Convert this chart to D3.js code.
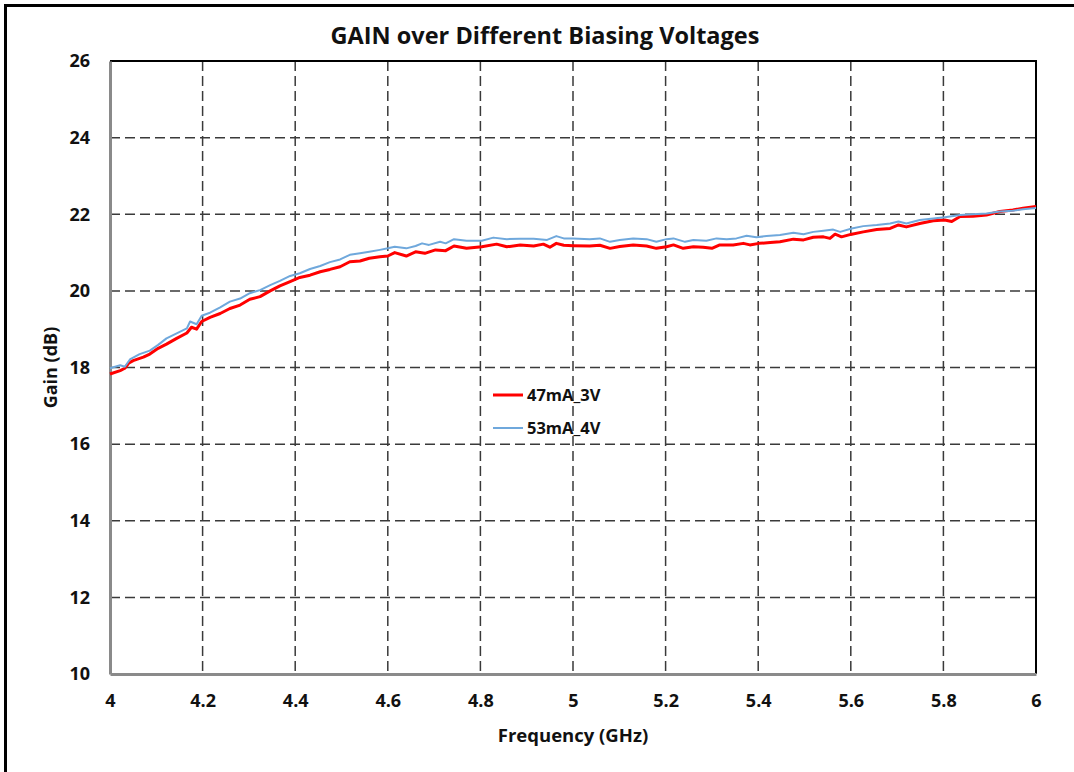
<!DOCTYPE html>
<html>
<head>
<meta charset="utf-8">
<script src="https://cdn.jsdelivr.net/npm/d3@7"></script>
<style>
  html, body { margin: 0; padding: 0; background: #fff; }
  svg { display: block; font-family: "Open Sans", Lato, sans-serif; }
</style>
</head>
<body>
<svg id="chart" width="1074" height="772"></svg>
<script>
// Frequency axis (GHz) and gain axis (dB) tick values
const xTicks = [4, 4.2, 4.4, 4.6, 4.8, 5, 5.2, 5.4, 5.6, 5.8, 6];
const yTicks = [10, 12, 14, 16, 18, 20, 22, 24, 26];

// Series 1: 47mA_3V
const freq47 = [4.000, 4.022, 4.032, 4.040, 4.050, 4.072, 4.086, 4.104, 4.122, 4.144,
  4.166, 4.176, 4.187, 4.198, 4.216, 4.238, 4.259, 4.281, 4.302, 4.324,
  4.346, 4.367, 4.389, 4.410, 4.432, 4.454, 4.475, 4.497, 4.518, 4.540,
  4.560, 4.583, 4.600, 4.615, 4.640, 4.660, 4.680, 4.703, 4.725, 4.743,
  4.770, 4.803, 4.835, 4.857, 4.886, 4.915, 4.936, 4.950, 4.964, 4.980,
  5.000, 5.036, 5.058, 5.080, 5.101, 5.130, 5.159, 5.180, 5.202, 5.217,
  5.238, 5.260, 5.281, 5.300, 5.317, 5.346, 5.368, 5.382, 5.402, 5.426,
  5.447, 5.476, 5.498, 5.519, 5.541, 5.555, 5.566, 5.580, 5.602, 5.627,
  5.656, 5.685, 5.703, 5.720, 5.749, 5.778, 5.803, 5.818, 5.836, 5.864,
  5.893, 5.922, 5.950, 5.972, 6.000];
const gain47 = [17.83, 17.92, 17.98, 18.11, 18.18, 18.27, 18.35, 18.50, 18.61, 18.76,
  18.90, 19.05, 19.00, 19.20, 19.31, 19.41, 19.54, 19.63, 19.78, 19.85,
  20.00, 20.13, 20.24, 20.35, 20.41, 20.50, 20.56, 20.63, 20.76, 20.78,
  20.85, 20.89, 20.91, 21.00, 20.91, 21.02, 20.98, 21.07, 21.05, 21.17,
  21.11, 21.15, 21.22, 21.15, 21.20, 21.17, 21.22, 21.14, 21.24, 21.19,
  21.18, 21.17, 21.19, 21.11, 21.16, 21.20, 21.17, 21.11, 21.15, 21.20,
  21.11, 21.15, 21.14, 21.11, 21.20, 21.20, 21.24, 21.20, 21.24, 21.26,
  21.28, 21.35, 21.33, 21.40, 21.41, 21.37, 21.48, 21.41, 21.48, 21.54,
  21.60, 21.63, 21.72, 21.67, 21.76, 21.83, 21.85, 21.81, 21.94, 21.95,
  21.98, 22.07, 22.11, 22.16, 22.20];

// Series 2: 53mA_4V
const freq53 = [4.000, 4.022, 4.032, 4.043, 4.064, 4.086, 4.104, 4.122, 4.144, 4.166,
  4.173, 4.187, 4.198, 4.216, 4.238, 4.259, 4.281, 4.302, 4.324, 4.346,
  4.367, 4.389, 4.410, 4.432, 4.454, 4.475, 4.497, 4.518, 4.540, 4.560,
  4.583, 4.600, 4.615, 4.640, 4.660, 4.674, 4.689, 4.713, 4.725, 4.743,
  4.770, 4.803, 4.828, 4.857, 4.886, 4.915, 4.944, 4.964, 4.980, 5.000,
  5.036, 5.058, 5.080, 5.101, 5.130, 5.159, 5.180, 5.202, 5.217, 5.242,
  5.260, 5.288, 5.310, 5.332, 5.353, 5.375, 5.396, 5.418, 5.447, 5.476,
  5.498, 5.519, 5.541, 5.562, 5.577, 5.602, 5.627, 5.656, 5.685, 5.703,
  5.720, 5.749, 5.778, 5.803, 5.836, 5.864, 5.893, 5.922, 5.950, 5.972,
  6.000];
const gain53 = [17.98, 18.06, 18.02, 18.21, 18.35, 18.44, 18.59, 18.76, 18.89, 19.02,
  19.20, 19.13, 19.35, 19.43, 19.57, 19.72, 19.80, 19.94, 20.02, 20.15,
  20.26, 20.39, 20.46, 20.57, 20.65, 20.75, 20.82, 20.94, 20.98, 21.02,
  21.07, 21.11, 21.15, 21.11, 21.17, 21.24, 21.20, 21.28, 21.24, 21.35,
  21.31, 21.31, 21.39, 21.35, 21.36, 21.36, 21.33, 21.43, 21.37, 21.37,
  21.35, 21.37, 21.28, 21.33, 21.37, 21.35, 21.28, 21.35, 21.37, 21.28,
  21.33, 21.31, 21.37, 21.35, 21.37, 21.44, 21.40, 21.43, 21.46, 21.52,
  21.48, 21.54, 21.57, 21.60, 21.54, 21.63, 21.69, 21.72, 21.76, 21.81,
  21.76, 21.85, 21.89, 21.92, 21.98, 22.00, 22.02, 22.07, 22.09, 22.13,
  22.16];

const seriesNames = ["47mA_3V", "53mA_4V"];
const seriesColors = ["#ff0000", "#6fa8dc"];
const seriesWidths = [3, 2];

const svg = d3.select("#chart");
const plot = { left: 110, right: 1036, top: 61, bottom: 674 };

const x = d3.scaleLinear().domain([4, 6]).range([plot.left, plot.right]);
const y = d3.scaleLinear().domain([10, 26]).range([plot.bottom, plot.top]);

// outer chart frame
svg.append("rect")
  .attr("x", 5.5).attr("y", 5.5)
  .attr("width", 1100).attr("height", 820)
  .attr("fill", "#fff").attr("stroke", "#000").attr("stroke-width", 3);

// title
svg.append("text")
  .attr("x", 545).attr("y", 44)
  .attr("text-anchor", "middle")
  .attr("font-size", 23.5).attr("font-weight", 700).attr("fill", "#111")
  .text("GAIN over Different Biasing Voltages");

// dashed grid
const grid = svg.append("g").attr("stroke", "#3a3a3a").attr("stroke-width", 1.5)
  .attr("stroke-dasharray", "10,5");
grid.selectAll("line.v").data(xTicks.slice(1, -1)).join("line")
  .attr("class", "v")
  .attr("x1", d => x(d)).attr("x2", d => x(d))
  .attr("y1", plot.top).attr("y2", plot.bottom);
grid.selectAll("line.h").data(yTicks.slice(1, -1)).join("line")
  .attr("class", "h")
  .attr("x1", plot.left).attr("x2", plot.right)
  .attr("y1", d => y(d)).attr("y2", d => y(d));

// top and right borders of the plot area
svg.append("path")
  .attr("d", `M${plot.left},${plot.top}H${plot.right}V${plot.bottom}`)
  .attr("fill", "none").attr("stroke", "#000").attr("stroke-width", 2);

// axes
const fmt = d => String(+d.toFixed(1));
const xAxis = svg.append("g")
  .attr("transform", `translate(0,${plot.bottom})`)
  .call(d3.axisBottom(x).tickValues(xTicks).tickFormat(fmt).tickSize(0).tickPadding(20));
const yAxis = svg.append("g")
  .attr("transform", `translate(${plot.left},0)`)
  .call(d3.axisLeft(y).tickValues(yTicks).tickFormat(fmt).tickSize(0).tickPadding(20));
[xAxis, yAxis].forEach(a => {
  a.select(".domain").attr("stroke", "#8a8a8a").attr("stroke-width", 3);
  a.selectAll("text")
    .attr("font-family", "'Open Sans', Lato, sans-serif")
    .attr("font-size", 18).attr("font-weight", 700).attr("fill", "#111");
});

// axis titles
svg.append("text")
  .attr("x", (plot.left + plot.right) / 2).attr("y", 742)
  .attr("text-anchor", "middle")
  .attr("font-size", 18.5).attr("font-weight", 700).attr("fill", "#111")
  .text("Frequency (GHz)");
svg.append("text")
  .attr("transform", `translate(57,${(plot.top + plot.bottom) / 2}) rotate(-90)`)
  .attr("text-anchor", "middle")
  .attr("font-size", 18).attr("font-weight", 700).attr("fill", "#111")
  .text("Gain (dB)");

// gain curves
const line = d3.line().x(d => x(d[0])).y(d => y(d[1]));
const seriesData = [d3.zip(freq47, gain47), d3.zip(freq53, gain53)];
svg.append("g").selectAll("path").data(seriesData).join("path")
  .attr("d", line)
  .attr("fill", "none")
  .attr("stroke", (d, i) => seriesColors[i])
  .attr("stroke-width", (d, i) => seriesWidths[i])
  .attr("stroke-linejoin", "round");

// legend
const legend = svg.append("g").attr("transform", "translate(493,395)");
const item = legend.selectAll("g").data(seriesNames).join("g")
  .attr("transform", (d, i) => `translate(0,${i * 33})`);
item.append("line")
  .attr("x1", 0).attr("x2", 30)
  .attr("stroke", (d, i) => seriesColors[i])
  .attr("stroke-width", (d, i) => seriesWidths[i]);
item.append("text")
  .attr("x", 34).attr("y", 6)
  .attr("font-size", 16.5).attr("font-weight", 700).attr("fill", "#111")
  .text(d => d);
</script>
</body>
</html>
